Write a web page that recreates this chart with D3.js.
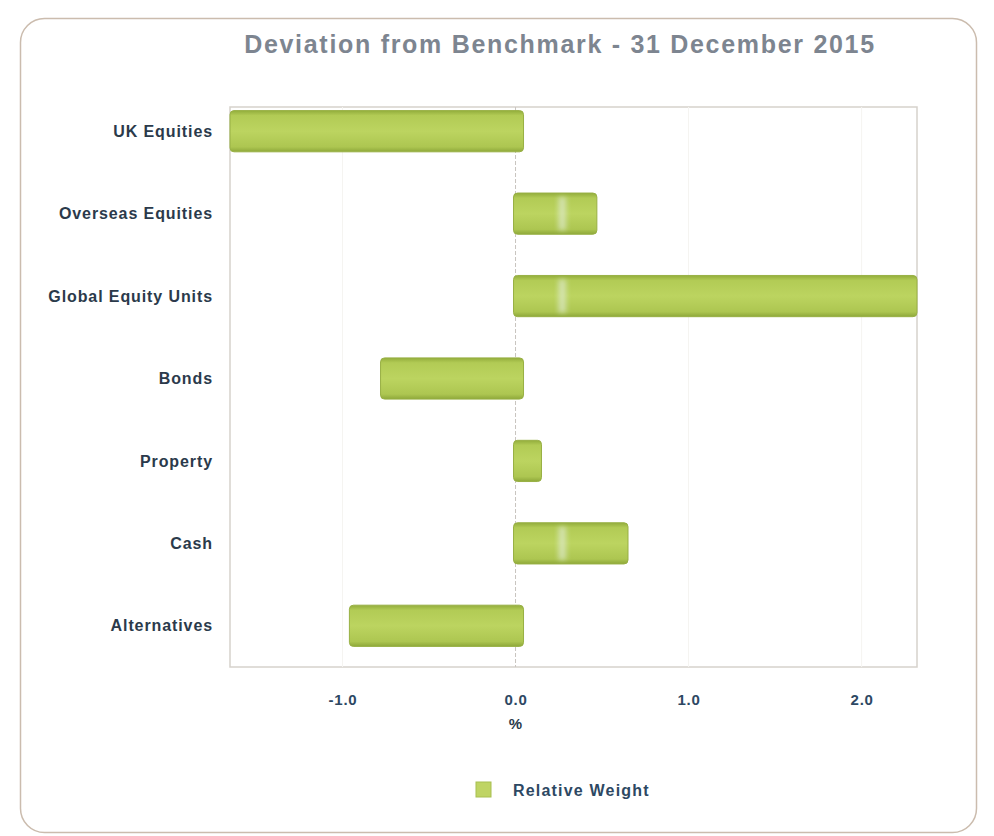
<!DOCTYPE html>
<html>
<head>
<meta charset="utf-8">
<script src="https://cdn.jsdelivr.net/npm/d3@7"></script>
<style>
  html, body { margin: 0; padding: 0; background: #ffffff; }
  svg { display: block; }
  text { font-family: "Liberation Sans", Arial, sans-serif; }
</style>
</head>
<body>
<svg id="chart" width="994" height="836"></svg>
<script>
const title = "Deviation from Benchmark - 31 December 2015";
const categories = ["UK Equities", "Overseas Equities", "Global Equity Units", "Bonds", "Property", "Cash", "Alternatives"];
const values = [-1.65, 0.47, 2.32, -0.78, 0.15, 0.65, -0.96];
const xTicks = [-1.0, 0.0, 1.0, 2.0];
const xAxisLabel = "%";
const seriesName = "Relative Weight";

const svg = d3.select("#chart");

// outer frame
svg.append("rect")
  .attr("x", 20.5).attr("y", 18.5)
  .attr("width", 956).attr("height", 814)
  .attr("rx", 24).attr("ry", 24)
  .attr("fill", "#ffffff")
  .attr("stroke", "#cbbcae").attr("stroke-width", 1.5);

// gradients for bars
const defs = svg.append("defs");
const grad = defs.append("linearGradient").attr("id", "barGrad")
  .attr("x1", 0).attr("y1", 0).attr("x2", 0).attr("y2", 1);
grad.append("stop").attr("offset", "0%").attr("stop-color", "#93ad3c");
grad.append("stop").attr("offset", "12%").attr("stop-color", "#b2cb55");
grad.append("stop").attr("offset", "50%").attr("stop-color", "#bcd460");
grad.append("stop").attr("offset", "88%").attr("stop-color", "#adc651");
grad.append("stop").attr("offset", "100%").attr("stop-color", "#8ea83a");
defs.append("filter").attr("id", "soft").attr("x", "-50%").attr("width", "200%")
  .append("feGaussianBlur").attr("stdDeviation", 2.5);

const plot = { left: 230, right: 917, top: 107, bottom: 667 };

const x = d3.scaleLinear().domain([-1.65, 2.32]).range([plot.left, plot.right]);
const y = d3.scaleBand().domain(categories).range([90, 667]).paddingInner(0.5).paddingOuter(0.25);

// plot frame
svg.append("rect")
  .attr("x", plot.left).attr("y", plot.top)
  .attr("width", plot.right - plot.left).attr("height", plot.bottom - plot.top)
  .attr("fill", "none").attr("stroke", "#d6d2cc").attr("stroke-width", 1.5);

// faint gridlines
svg.append("g").selectAll("line").data(xTicks.filter(t => t !== 0)).join("line")
  .attr("x1", d => x(d)).attr("x2", d => x(d))
  .attr("y1", plot.top).attr("y2", plot.bottom)
  .attr("stroke", "#f5f4f1").attr("stroke-width", 1);

// zero line dashed
svg.append("line")
  .attr("x1", x(0)).attr("x2", x(0))
  .attr("y1", plot.top).attr("y2", plot.bottom)
  .attr("stroke", "#c9c5bf").attr("stroke-width", 1)
  .attr("stroke-dasharray", "4,2");

// bars
const bars = svg.append("g");
bars.selectAll("rect.bar").data(categories).join("rect")
  .attr("class", "bar")
  .attr("x", (d, i) => Math.min(x(0), x(values[i])) - (values[i] > 0 ? 2 : 0))
  .attr("width", (d, i) => Math.abs(x(values[i]) - x(0)) + (values[i] > 0 ? 2 : 8))
  .attr("y", d => y(d))
  .attr("height", y.bandwidth())
  .attr("rx", 4).attr("ry", 4)
  .attr("fill", "url(#barGrad)")
  .attr("stroke", "#98b044").attr("stroke-width", 1);

// soft highlight stripe on longer positive bars (rendering sheen)
const sheenAt = 0.27;
bars.selectAll("rect.sheen").data(categories.filter((c, i) => values[i] > sheenAt + 0.1)).join("rect")
  .attr("class", "sheen")
  .attr("x", x(sheenAt) - 4)
  .attr("width", 8)
  .attr("y", d => y(d) + 4)
  .attr("height", y.bandwidth() - 8)
  .attr("fill", "#e4eedc").attr("opacity", 0.6)
  .attr("filter", "url(#soft)");

// category labels
svg.append("g").selectAll("text").data(categories).join("text")
  .attr("x", 213)
  .attr("y", d => y(d) + y.bandwidth() / 2)
  .attr("dy", "0.35em")
  .attr("text-anchor", "end")
  .attr("font-size", 16)
  .attr("font-weight", "bold")
  .attr("letter-spacing", 0.9)
  .attr("fill", "#2b3a4b")
  .text(d => d);

// x axis
const xAxis = d3.axisBottom(x).tickValues(xTicks).tickFormat(d => d.toFixed(1)).tickSize(0).tickPadding(27);
const gx = svg.append("g").attr("transform", `translate(0,${plot.bottom})`).call(xAxis);
gx.select(".domain").remove();
gx.selectAll("text")
  .attr("font-family", "Liberation Sans, Arial, sans-serif")
  .attr("font-size", 15)
  .attr("font-weight", "bold")
  .attr("letter-spacing", 0.8)
  .attr("fill", "#2d4863");

// axis label
svg.append("text")
  .attr("x", x(0)).attr("y", 729)
  .attr("text-anchor", "middle")
  .attr("font-size", 15).attr("font-weight", "bold")
  .attr("fill", "#2b3a4b")
  .text(xAxisLabel);

// title
svg.append("text")
  .attr("x", 560).attr("y", 53)
  .attr("text-anchor", "middle")
  .attr("font-size", 25).attr("font-weight", "bold")
  .attr("letter-spacing", 1.7)
  .attr("fill", "#7d8590")
  .text(title);

// legend
svg.append("rect")
  .attr("x", 476).attr("y", 782)
  .attr("width", 15).attr("height", 15)
  .attr("fill", "#bfd464").attr("stroke", "#a8bf50");
svg.append("text")
  .attr("x", 513).attr("y", 796)
  .attr("font-size", 16).attr("font-weight", "bold")
  .attr("letter-spacing", 1.2)
  .attr("fill", "#2d4863")
  .text(seriesName);
</script>
</body>
</html>
